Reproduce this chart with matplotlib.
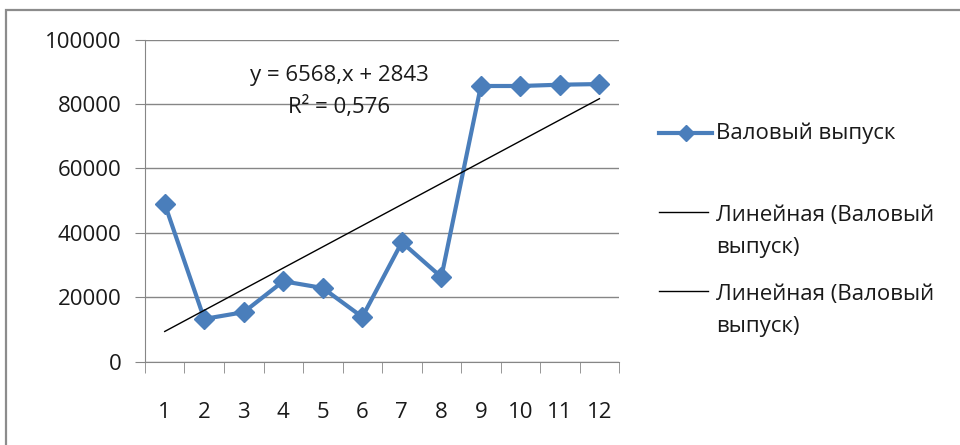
import numpy as np
import matplotlib.pyplot as plt
from matplotlib.lines import Line2D
from matplotlib.patches import Rectangle

# data
months = [1, 2, 3, 4, 5, 6, 7, 8, 9, 10, 11, 12]
gross_output = [49000, 13300, 15400, 25000, 22900, 13900, 37100, 26300, 85600, 85600, 86000, 86200]
trend_slope = 6568
trend_intercept = 2843
r_squared = "0,576"

series_label = "Валовый выпуск"
trend_label = "Линейная (Валовый\nвыпуск)"

plt.rcParams['font.family'] = ['Open Sans', 'DejaVu Sans']
blue = '#4A7EBB'
grid_col = '#868686'
txt_col = '#1a1a1a'

fig = plt.figure(figsize=(9.6, 4.45), dpi=100)
ax = fig.add_axes([0.151, 0.187, 0.494, 0.724])

# chart area border
fig.add_artist(Rectangle((0.006, -0.2), 1.2, 1.178, transform=fig.transFigure,
                         fill=False, ec='#8c8c8c', lw=1.6))

x = np.array(months)
ax.plot(x, gross_output, color=blue, lw=3.0, marker='D', ms=10, zorder=3)
trend = trend_slope * x + trend_intercept
ax.plot(x, trend, color='black', lw=1.0, zorder=4)

ax.set_xlim(0.5, 12.5)
ax.set_ylim(0, 100000)
ax.set_yticks(range(0, 100001, 20000))
ax.set_xticks(x)
ax.set_xticks(np.arange(0.5, 12.6, 1), minor=True)
ax.tick_params(axis='x', which='major', length=0, pad=29, labelsize=16, labelcolor=txt_col)
ax.tick_params(axis='x', which='minor', length=8, direction='out', color=grid_col)
ax.tick_params(axis='y', length=7, direction='out', color=grid_col, pad=10,
               labelsize=16, labelcolor=txt_col)
ax.grid(axis='y', color=grid_col, lw=1)
for s in ['top', 'right']:
    ax.spines[s].set_visible(False)
for s in ['left', 'bottom']:
    ax.spines[s].set_color(grid_col)

ax.text(0.41, 0.89, "y = 6568,x + 2843", transform=ax.transAxes, ha='center', va='center',
        fontsize=16, color=txt_col)
ax.text(0.41, 0.79, "R² = " + r_squared, transform=ax.transAxes, ha='center', va='center',
        fontsize=16, color=txt_col)

# legend drawn by hand to match the spreadsheet layout
def fy(py):
    return 1 - py / 445

fig.add_artist(Line2D([659 / 960, 712 / 960], [fy(133), fy(133)], color=blue, lw=3.0,
                      transform=fig.transFigure))
fig.add_artist(Line2D([685.5 / 960], [fy(133)], color=blue, marker='D', ms=8,
                      transform=fig.transFigure))
fig.text(716 / 960, fy(133), series_label, ha='left', va='center', fontsize=16, color=txt_col)
for yy in [212, 291]:
    fig.add_artist(Line2D([659 / 960, 708 / 960], [fy(yy), fy(yy)], color='black', lw=1.0,
                          transform=fig.transFigure))
    fig.text(716 / 960, fy(yy - 7), trend_label, ha='left', va='top', fontsize=16,
             color=txt_col, linespacing=1.7)

fig.savefig('out.png', dpi=100)
